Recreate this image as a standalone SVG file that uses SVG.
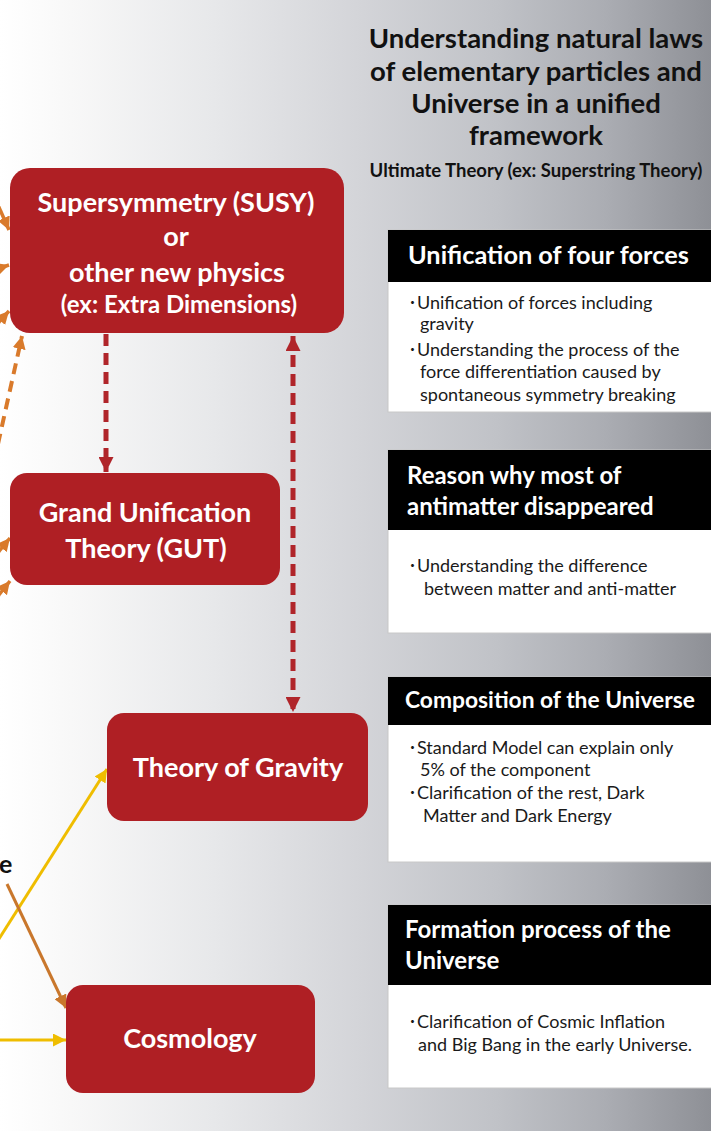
<svg xmlns="http://www.w3.org/2000/svg" width="711" height="1131" viewBox="0 0 711 1131">
<defs>
<linearGradient id="bg" x1="0" y1="0" x2="1" y2="0">
<stop offset="0" stop-color="#ffffff"/>
<stop offset="0.1" stop-color="#f8f8f8"/>
<stop offset="0.3" stop-color="#e7e8ea"/>
<stop offset="0.5" stop-color="#d4d5d9"/>
<stop offset="0.7" stop-color="#c0c2c7"/>
<stop offset="0.85" stop-color="#abadb3"/>
<stop offset="1" stop-color="#8e9096"/>
</linearGradient>
<marker id="ar" viewBox="0 0 10 10" refX="10" refY="5" markerWidth="15" markerHeight="15" markerUnits="userSpaceOnUse" orient="auto-start-reverse"><path d="M0,0 L10,5 L0,10 z" fill="#b0252a"/></marker>
<marker id="ao" viewBox="0 0 10 10" refX="10" refY="5" markerWidth="13" markerHeight="13" markerUnits="userSpaceOnUse" orient="auto"><path d="M0,0 L10,5 L0,10 z" fill="#d97a2b"/></marker>
<marker id="ay" viewBox="0 0 10 10" refX="10" refY="5" markerWidth="13" markerHeight="13" markerUnits="userSpaceOnUse" orient="auto"><path d="M0,0 L10,5 L0,10 z" fill="#efbd00"/></marker>
<marker id="ab" viewBox="0 0 10 10" refX="10" refY="5" markerWidth="13" markerHeight="13" markerUnits="userSpaceOnUse" orient="auto"><path d="M0,0 L10,5 L0,10 z" fill="#c9772c"/></marker>
</defs>
<style>
.node{fill:#af1f24}
.nt{font-family:Lato,"Liberation Sans",sans-serif;font-weight:700;fill:#ffffff;text-anchor:middle;font-size:27px}
.nts{font-size:24px}
.title{font-family:Lato,"Liberation Sans",sans-serif;font-weight:700;fill:#111111;text-anchor:middle;font-size:27.5px}
.sub{font-size:18.5px}
.hdr{fill:#000000}
.bdy{fill:#ffffff;stroke:#c8c8c8;stroke-width:1}
.ht{font-family:Lato,"Liberation Sans",sans-serif;font-weight:700;fill:#ffffff;font-size:24px}
.htl{font-size:25.3px}
.hts{font-size:22.8px}
.bt{font-family:Lato,"Noto Sans CJK JP",sans-serif;fill:#1a1a1a;font-size:18px}
.red{stroke:#b0252a;stroke-width:5;stroke-dasharray:12 7;fill:none}
.ord{stroke:#d97a2b;stroke-width:4;stroke-dasharray:11 7;fill:none}
.ors{stroke:#d97a2b;stroke-width:3.5;fill:none}
.yel{stroke:#efbd00;stroke-width:3;fill:none}
.brn{stroke:#c9772c;stroke-width:3;fill:none}
</style>
<rect x="0" y="0" width="711" height="1131" fill="url(#bg)"/>

<g id="title">
<text class="title" x="536" y="48">Understanding natural laws</text>
<text class="title" x="536" y="81">of elementary particles and</text>
<text class="title" x="536" y="113">Universe in a unified</text>
<text class="title" x="536" y="145">framework</text>
<text class="title sub" x="536" y="177">Ultimate Theory (ex: Superstring Theory)</text>
</g>

<g id="connectors">
<line class="red" x1="106" y1="334" x2="106" y2="472" marker-end="url(#ar)"/>
<line class="red" x1="293" y1="336" x2="293" y2="712" marker-start="url(#ar)" marker-end="url(#ar)"/>
<line class="ors" x1="-6" y1="196" x2="9" y2="230" marker-end="url(#ao)"/>
<line class="ors" x1="-12" y1="272" x2="9" y2="265" marker-end="url(#ao)"/>
<line class="ors" x1="-10" y1="332" x2="9" y2="311" marker-end="url(#ao)"/>
<line class="ord" x1="-6" y1="462" x2="22" y2="336" marker-end="url(#ao)"/>
<line class="ors" x1="-10" y1="562" x2="10" y2="538" marker-end="url(#ao)"/>
<line class="ors" x1="-10" y1="606" x2="10" y2="581" marker-end="url(#ao)"/>
<line class="yel" x1="-10" y1="953" x2="107" y2="769" marker-end="url(#ay)"/>
<line class="yel" x1="-5" y1="1040" x2="66" y2="1040" marker-end="url(#ay)"/>
<line class="brn" x1="7" y1="884" x2="66" y2="1008" marker-end="url(#ab)"/>
</g>

<text x="-1" y="873" font-family="Lato,'Liberation Sans',sans-serif" font-weight="700" font-size="25" fill="#111111">e</text>

<g id="susy">
<rect class="node" x="10" y="168" width="334" height="165" rx="20"/>
<text class="nt" x="176" y="212">Supersymmetry (SUSY)</text>
<text class="nt" x="176" y="246">or</text>
<text class="nt" x="177" y="282">other new physics</text>
<text class="nt nts" x="179" y="313">(ex: Extra Dimensions)</text>
</g>

<g id="gut">
<rect class="node" x="10" y="473" width="270" height="112" rx="17"/>
<text class="nt" x="145" y="522">Grand Unification</text>
<text class="nt" x="146" y="558">Theory (GUT)</text>
</g>

<g id="gravity">
<rect class="node" x="107" y="713" width="261" height="108" rx="17"/>
<text class="nt" x="238" y="777">Theory of Gravity</text>
</g>

<g id="cosmology">
<rect class="node" x="66" y="985" width="249" height="108" rx="17"/>
<text class="nt" x="190" y="1048">Cosmology</text>
</g>

<g id="box1">
<rect class="bdy" x="388" y="230" width="330" height="182"/>
<rect class="hdr" x="388" y="230" width="330" height="52"/>
<text class="ht htl" x="408" y="264">Unification of four forces</text>
<text class="bt" x="408" y="309">･Unification of forces including</text>
<text class="bt" x="420" y="330">gravity</text>
<text class="bt" x="408" y="356">･Understanding the process of the</text>
<text class="bt" x="420" y="378">force differentiation caused by</text>
<text class="bt" x="420" y="401">spontaneous symmetry breaking</text>
</g>

<g id="box2">
<rect class="bdy" x="388" y="450" width="330" height="183"/>
<rect class="hdr" x="388" y="450" width="330" height="80"/>
<text class="ht" x="407" y="484">Reason why most of</text>
<text class="ht" x="407" y="515">antimatter disappeared</text>
<text class="bt" x="408" y="572">･Understanding the difference</text>
<text class="bt" x="424" y="595">between matter and anti-matter</text>
</g>

<g id="box3">
<rect class="bdy" x="388" y="677" width="330" height="185"/>
<rect class="hdr" x="388" y="677" width="330" height="48"/>
<text class="ht hts" x="405" y="708">Composition of the Universe</text>
<text class="bt" x="408" y="754">･Standard Model can explain only</text>
<text class="bt" x="420" y="776">5% of the component</text>
<text class="bt" x="408" y="799">･Clarification of the rest, Dark</text>
<text class="bt" x="423" y="822">Matter and Dark Energy</text>
</g>

<g id="box4">
<rect class="bdy" x="388" y="905" width="330" height="183"/>
<rect class="hdr" x="388" y="905" width="330" height="80"/>
<text class="ht" x="405" y="938">Formation process of the</text>
<text class="ht" x="405" y="969">Universe</text>
<text class="bt" x="408" y="1028">･Clarification of Cosmic Inflation</text>
<text class="bt" x="418" y="1051">and Big Bang in the early Universe.</text>
</g>
</svg>
